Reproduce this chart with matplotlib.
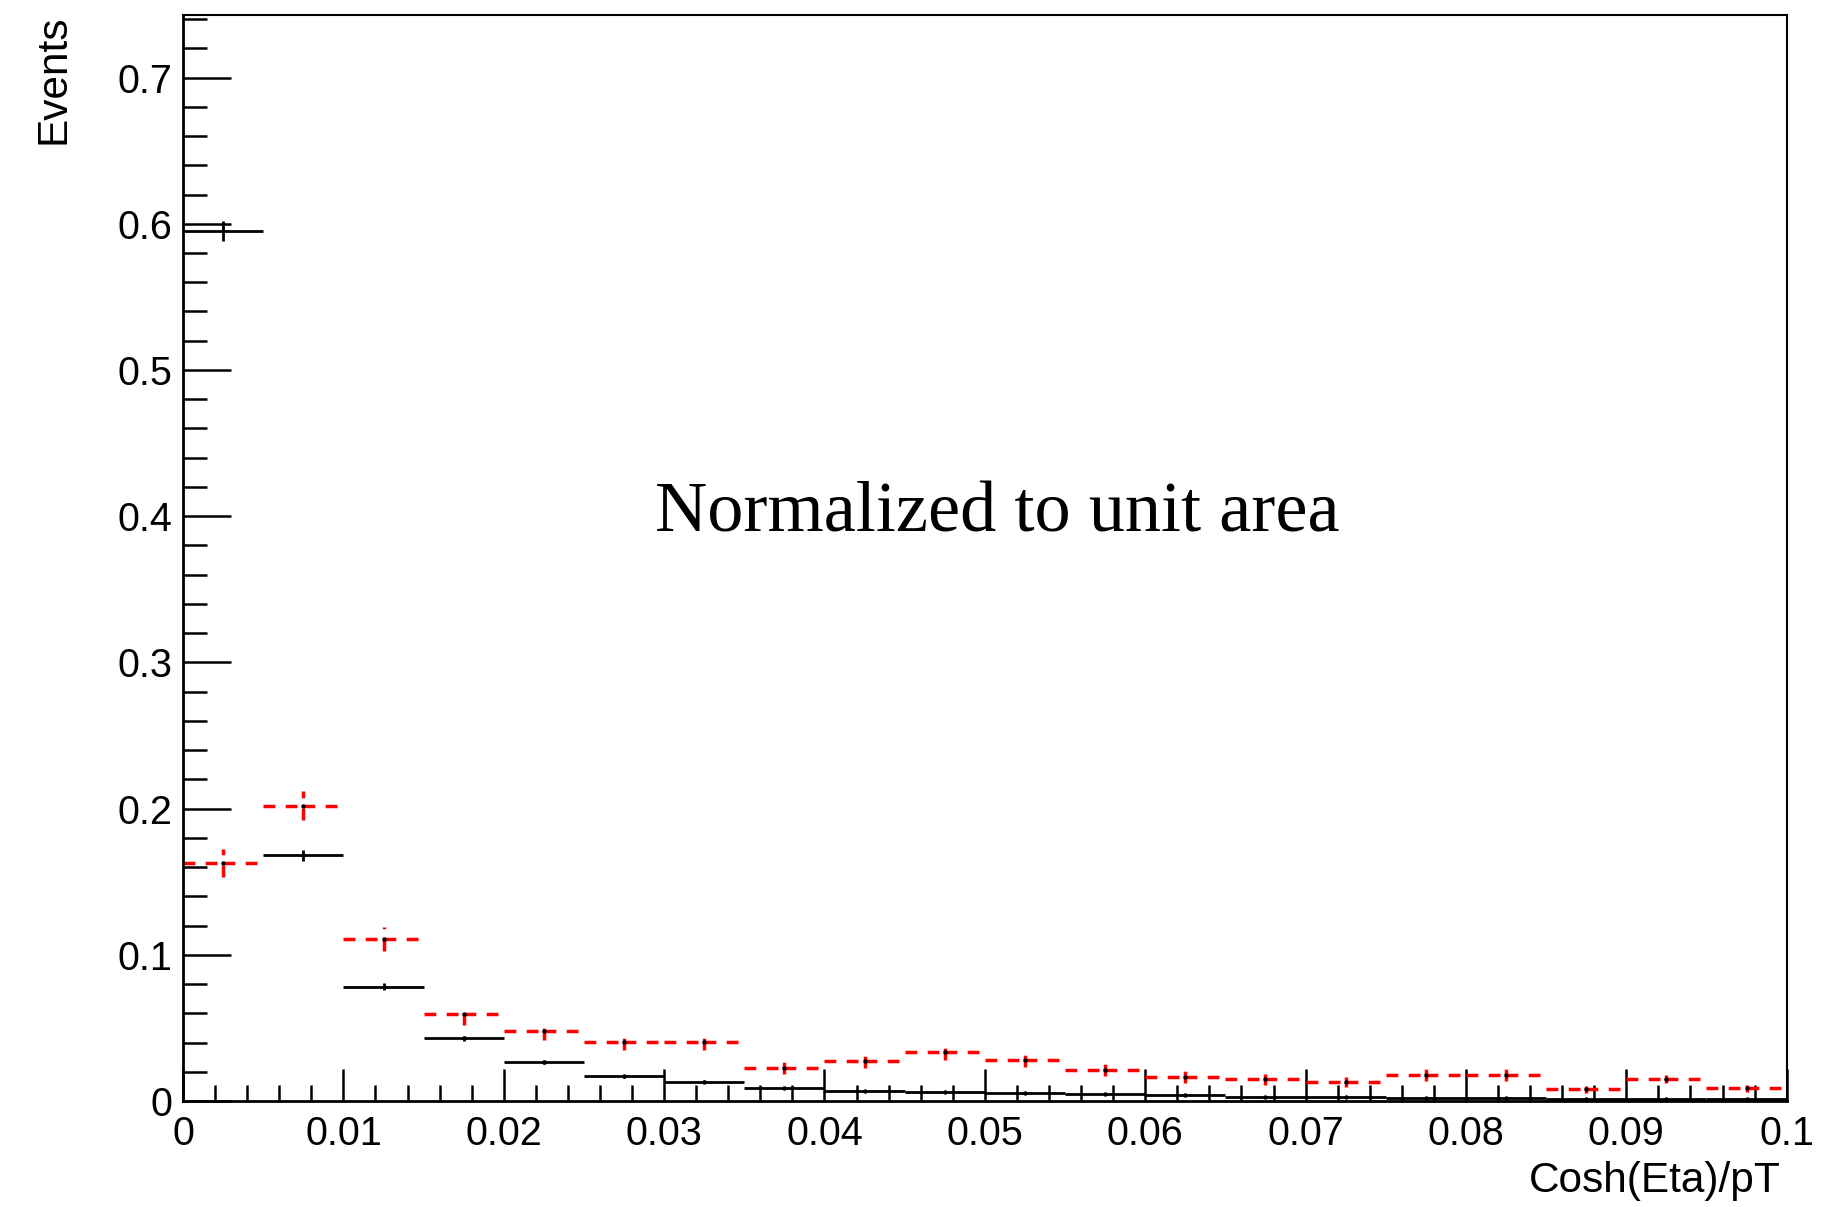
import matplotlib
matplotlib.use("Agg")
import matplotlib.pyplot as plt
import numpy as np
from matplotlib.ticker import FixedLocator, MultipleLocator

plt.rcParams['font.family'] = ['Liberation Sans', 'DejaVu Sans']

# binning: 20 bins of 0.005 between 0 and 0.1
bin_edges = np.linspace(0.0, 0.1, 21)

# black histogram (solid)
black_vals = np.array([0.595, 0.168, 0.078, 0.043, 0.027, 0.0168, 0.0132, 0.0091, 0.0068, 0.0064,
                       0.0055, 0.0050, 0.0039, 0.0027, 0.0027, 0.0018, 0.0021, 0.0016, 0.0014, 0.0012])
black_errs = np.array([0.007, 0.0038, 0.0024, 0.0018, 0.0014, 0.0011, 0.0010, 0.0008, 0.0007, 0.0007,
                       0.0006, 0.0006, 0.0005, 0.0004, 0.0004, 0.0003, 0.0003, 0.0003, 0.0003, 0.0003])

# red histogram (dashed)
red_vals = np.array([0.163, 0.202, 0.111, 0.0595, 0.048, 0.0404, 0.0404, 0.0228, 0.0274, 0.0335,
                     0.028, 0.0212, 0.0166, 0.0148, 0.0127, 0.0176, 0.0176, 0.0080, 0.0149, 0.0087])
red_errs = np.array([0.0097, 0.0100, 0.0083, 0.0072, 0.0063, 0.0057, 0.0057, 0.0046, 0.0048, 0.0054,
                     0.0048, 0.0039, 0.0040, 0.0037, 0.0034, 0.0040, 0.0040, 0.0025, 0.0027, 0.0025])

x_ticks = [0, 0.01, 0.02, 0.03, 0.04, 0.05, 0.06, 0.07, 0.08, 0.09, 0.1]
x_ticklabels = ["0", "0.01", "0.02", "0.03", "0.04", "0.05", "0.06", "0.07", "0.08", "0.09", "0.1"]
y_ticks = [0, 0.1, 0.2, 0.3, 0.4, 0.5, 0.6, 0.7]
y_ticklabels = ["0", "0.1", "0.2", "0.3", "0.4", "0.5", "0.6", "0.7"]

x_lo = bin_edges[:-1]
x_hi = bin_edges[1:]
x_mid = 0.5 * (x_lo + x_hi)

fig = plt.figure(figsize=(18.25, 12.07), dpi=100)
ax = fig.add_axes([0.1003, 0.0878, 0.8787, 0.8998])

# black: full-width bars, solid errors, dot markers
ax.hlines(black_vals, x_lo, x_hi, colors="black", lw=2.0)
ax.vlines(x_mid, black_vals - black_errs, black_vals + black_errs, colors="black", lw=2.0)

# red: dashed, each half of the bin drawn separately
dash = (0, (3.4, 3.0))
ax.hlines(red_vals, x_lo, x_mid, colors="red", lw=2.5, linestyles=[dash])
ax.hlines(red_vals, x_mid, x_hi, colors="red", lw=2.5, linestyles=[dash])
ax.vlines(x_mid, red_vals - red_errs, red_vals + red_errs, colors="red", lw=2.5, linestyles=[dash])

ax.plot(x_mid, black_vals, ls="none", marker="o", ms=2.2, color="black")
ax.plot(x_mid, red_vals, ls="none", marker="o", ms=2.2, color="black")

ax.set_xlim(0, 0.1)
ax.set_ylim(0, 0.7428)

ax.xaxis.set_major_locator(FixedLocator(x_ticks))
ax.set_xticklabels(x_ticklabels)
ax.xaxis.set_minor_locator(MultipleLocator(0.002))
ax.yaxis.set_major_locator(FixedLocator(y_ticks))
ax.set_yticklabels(y_ticklabels)
ax.yaxis.set_minor_locator(MultipleLocator(0.02))

ax.tick_params(axis="both", which="both", direction="in", width=1.8, colors="black",
               top=False, right=False)
ax.tick_params(axis="x", which="major", length=23, pad=10, labelsize=28.5)
ax.tick_params(axis="x", which="minor", length=11.5)
ax.tick_params(axis="y", which="major", length=34.5, pad=7.5, labelsize=28.5)
ax.tick_params(axis="y", which="minor", length=17.3)

for side in ["left", "bottom"]:
    ax.spines[side].set_linewidth(2.0)
for side in ["top", "right"]:
    ax.spines[side].set_linewidth(1.5)

ax.set_xlabel("Cosh(Eta)/pT", fontsize=30.5, ha="right", va="baseline")
ax.xaxis.set_label_coords(0.9965, -0.0838)
ax.set_ylabel("Events", fontsize=30.5, ha="right", va="top")
ax.yaxis.set_label_coords(-0.0935, 1.0)

ax.text(0.508, 0.524, "Normalized to unit area", transform=ax.transAxes,
        ha="center", va="baseline", fontsize=52, family=["Liberation Serif", "DejaVu Serif"])

fig.savefig("out.png", dpi=100)
